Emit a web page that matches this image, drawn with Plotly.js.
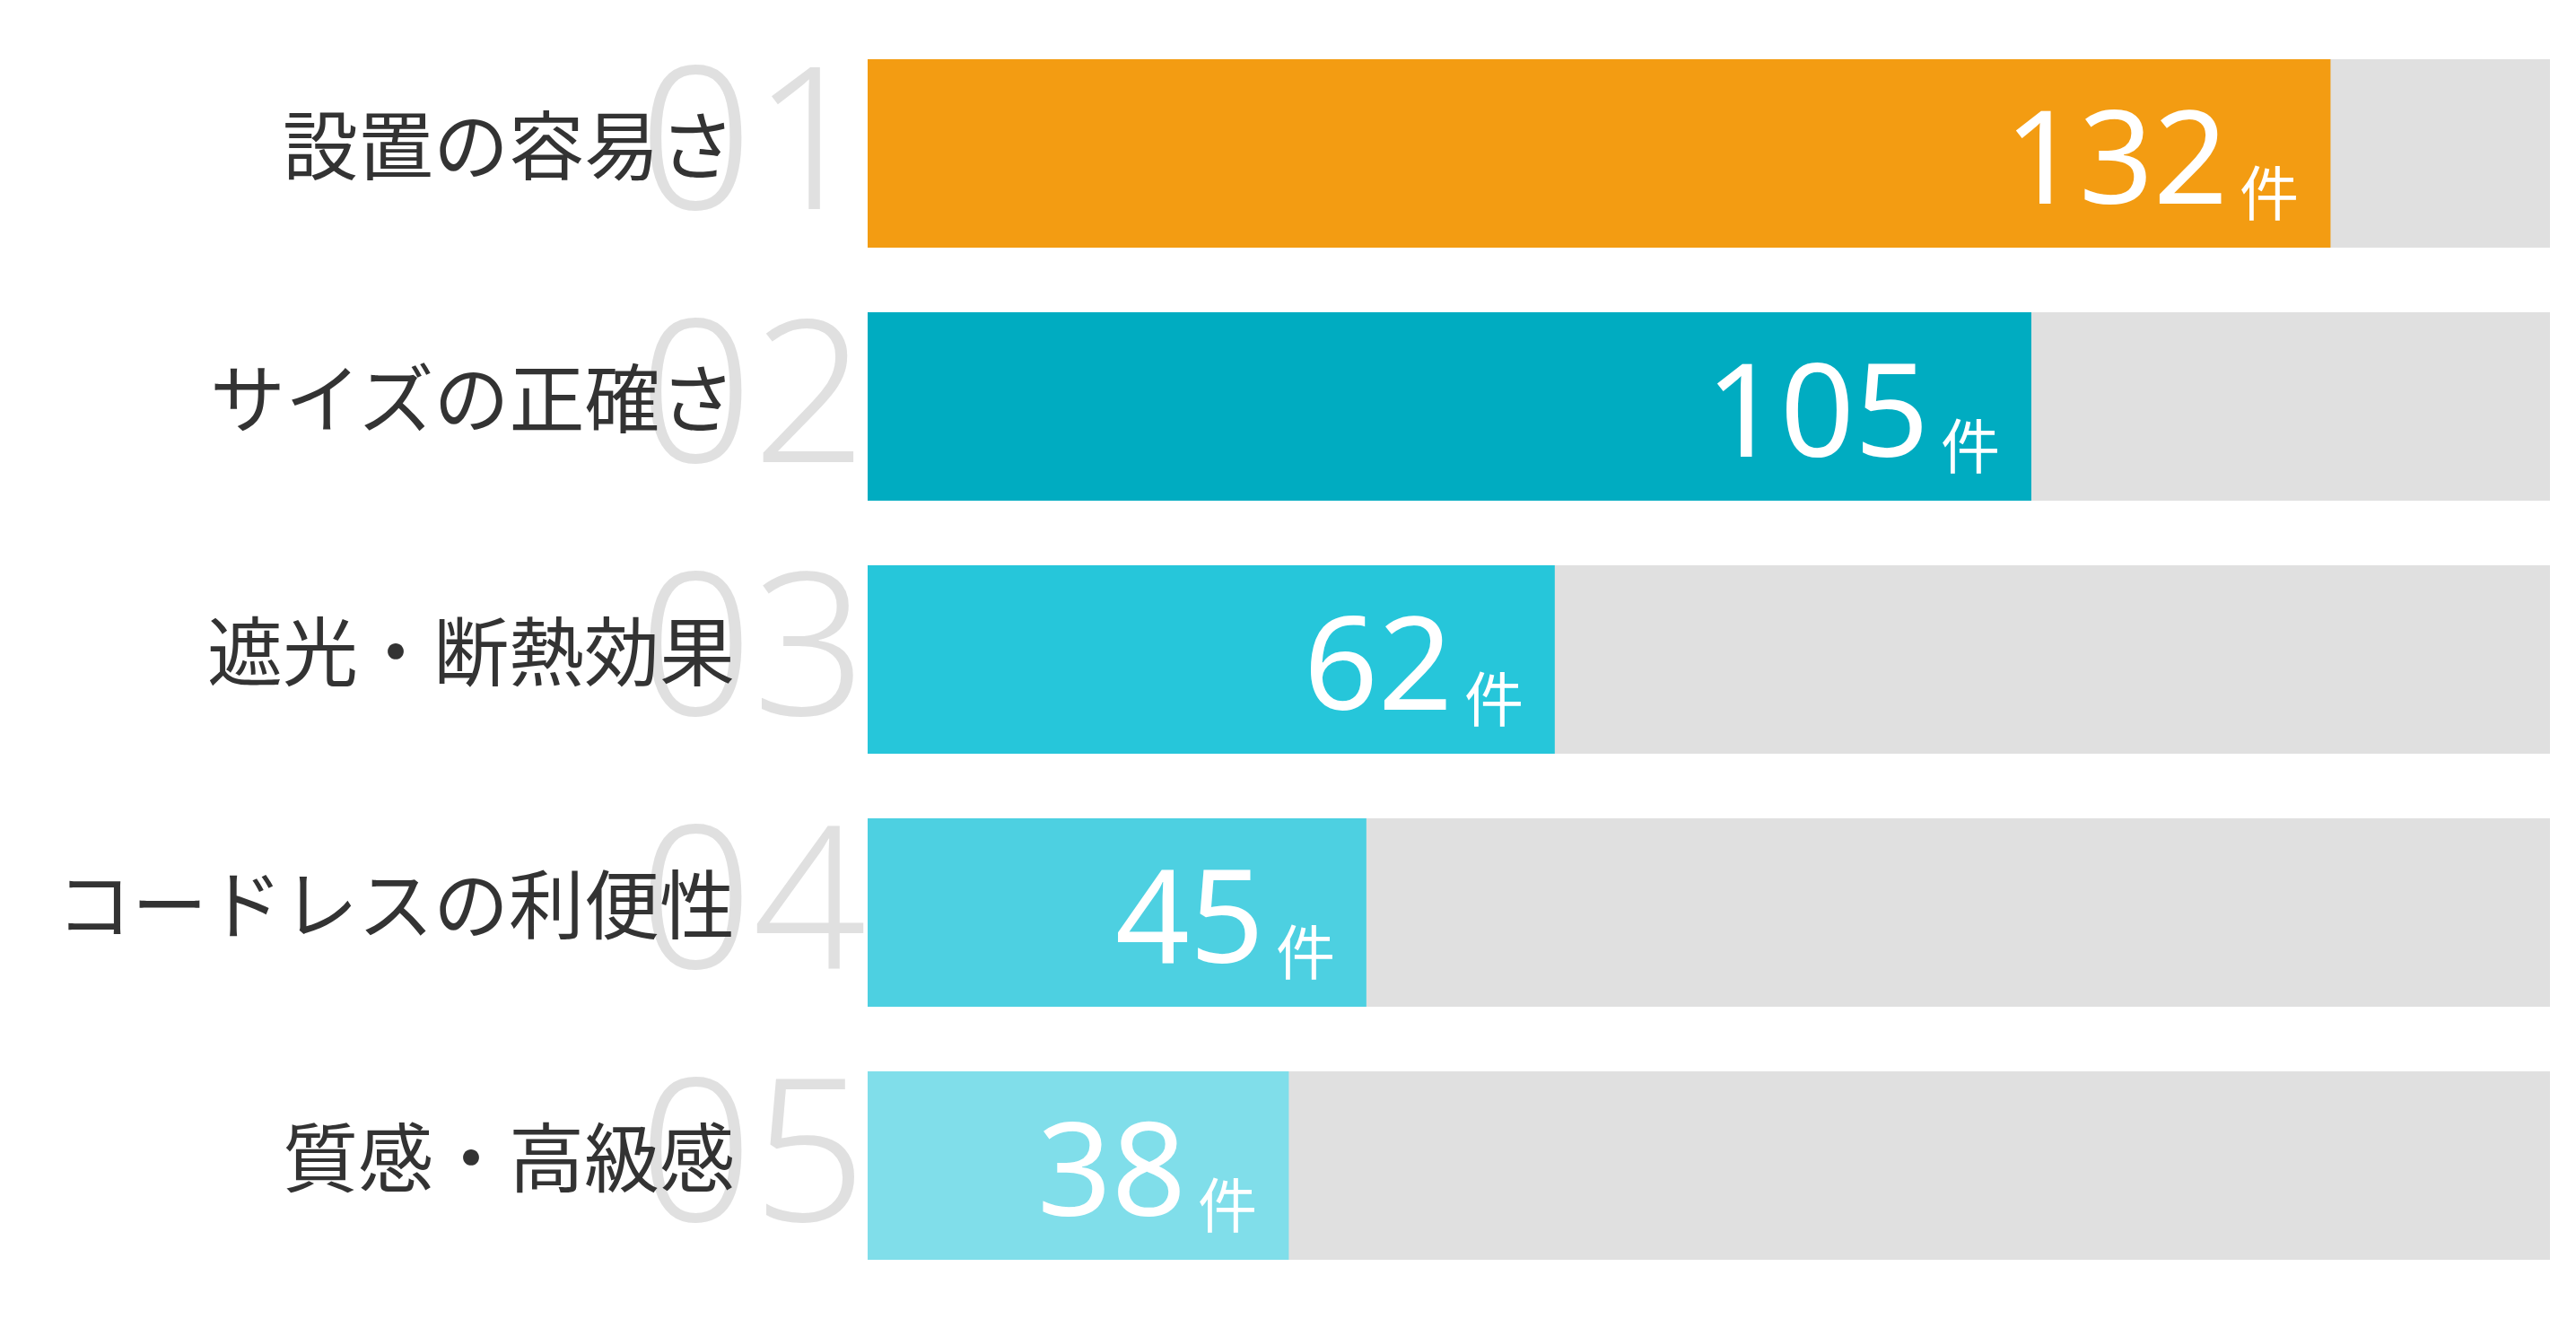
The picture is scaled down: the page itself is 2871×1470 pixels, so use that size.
<!DOCTYPE html>
<html>
<head>
<meta charset="utf-8">
<script src="https://cdn.plot.ly/plotly-3.0.1.min.js"></script>
<style>
html,body{margin:0;padding:0;background:#ffffff;overflow:hidden;}
#chart{width:2871px;height:1470px;}
</style>
</head>
<body>
<div id="chart"></div>
<script>
// ---- data ----
var categories = ["設置の容易さ", "サイズの正確さ", "遮光・断熱効果", "コードレスの利便性", "質感・高級感"];
var ranks = ["01", "02", "03", "04", "05"];
var counts = [132, 105, 62, 45, 38];
var unitLabel = "件";
var scaleMax = 151.8; // full length of the grey track
var barColors = ["#F39C12", "#00ACC1", "#26C6DA", "#4DD0E1", "#80DEEA"];

var trackValues = categories.map(function(){ return scaleMax; });

var traces = [
  {
    type: "bar", orientation: "h",
    y: categories, x: trackValues,
    marker: {color: "#E0E0E0"},
    hoverinfo: "skip", showlegend: false
  },
  {
    type: "bar", orientation: "h",
    y: categories, x: counts,
    marker: {color: barColors},
    hoverinfo: "x+y", showlegend: false
  }
];

var annotations = [];
categories.forEach(function(cat, i){
  annotations.push({
    xref: "paper", yref: "y", x: 0, y: cat,
    xanchor: "right", yanchor: "middle",
    xshift: 1, yshift: 24,
    text: ranks[i], showarrow: false,
    font: {family: "Noto Sans, Open Sans, sans-serif", size: 222, weight: 300, color: "#E0E0E0"}
  });
});
categories.forEach(function(cat, i){
  annotations.push({
    xref: "paper", yref: "y", x: 0, y: cat,
    xanchor: "right", yanchor: "middle",
    xshift: -146, yshift: 14,
    text: cat, showarrow: false,
    font: {family: "Noto Sans CJK JP, sans-serif", size: 84, color: "#333333"}
  });
  annotations.push({
    xref: "x", yref: "y", x: counts[i], y: cat,
    xanchor: "right", yanchor: "middle",
    xshift: -112, yshift: 1,
    text: String(counts[i]), showarrow: false,
    font: {family: "Noto Sans, Open Sans, sans-serif", size: 145, color: "#FFFFFF"}
  });
  annotations.push({
    xref: "x", yref: "y", x: counts[i], y: cat,
    xanchor: "right", yanchor: "middle",
    xshift: -33, yshift: -40,
    text: unitLabel, showarrow: false,
    font: {family: "Noto Sans CJK JP, sans-serif", size: 66, color: "#FFFFFF"}
  });
});

var layout = {
  width: 2871, height: 1470,
  margin: {l: 967, r: 29, t: 30, b: 30, pad: 0, autoexpand: false},
  paper_bgcolor: "#FFFFFF", plot_bgcolor: "#FFFFFF",
  barmode: "overlay", bargap: 0.255,
  xaxis: {range: [0, scaleMax], visible: false, fixedrange: true, automargin: false},
  yaxis: {type: "category", range: [categories.length - 0.5, -0.5], autorange: false,
          showticklabels: false, showgrid: false, zeroline: false, showline: false, ticks: "",
          fixedrange: true, automargin: false},
  annotations: annotations,
  showlegend: false
};

Plotly.newPlot("chart", traces, layout, {displayModeBar: false, staticPlot: true});
</script>
</body>
</html>
